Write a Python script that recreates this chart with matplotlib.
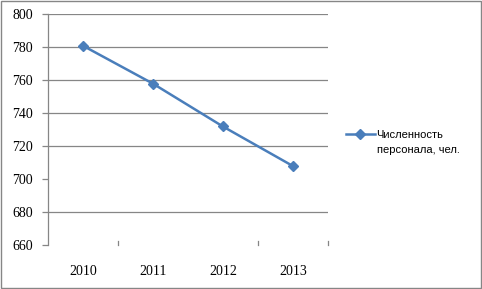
import matplotlib.pyplot as plt
from matplotlib.patches import Rectangle

years = ['2010', '2011', '2012', '2013']
staff = [781, 758, 732, 708]
yticks = [660, 680, 700, 720, 740, 760, 780, 800]
grid_at = [680, 720, 740, 760, 780, 800]
series_name = ['Численность', 'персонала, чел.']

fig = plt.figure(figsize=(4.82, 2.89), dpi=100)
ax = fig.add_axes([0.0996, 0.152, 0.5805, 0.798])

x = list(range(len(years)))
ax.plot(x, staff, color='#4a7ebb', lw=1.8, marker='D', ms=5.5,
        label=series_name[0])

for g in grid_at:
    ax.axhline(g, color='#868686', lw=0.9, zorder=0)

ax.set_xlim(-0.5, 3.5)
ax.set_ylim(660, 800)
ax.set_yticks(yticks)
ax.set_yticklabels([str(v) for v in yticks], family='Liberation Serif', fontsize=10)
ax.tick_params(axis='y', length=4, width=0.9, color='#868686', pad=7)

ax.set_xticks(x)
ax.set_xticklabels(years, family='Liberation Serif', fontsize=10)
ax.tick_params(axis='x', length=0, pad=14)
for b in [0.5, 2.5, 3.5]:
    ax.plot([b, b], [660, 662.5], color='#868686', lw=0.9, clip_on=False)

for s in ['top', 'right', 'bottom']:
    ax.spines[s].set_visible(False)
ax.spines['left'].set_color('#868686')
ax.spines['left'].set_linewidth(0.9)

# legend: marker sits on the first text line, second line wraps below
leg = fig.legend(loc='center left', bbox_to_anchor=(0.697, 0.533), frameon=False,
                 prop={'family': 'Liberation Sans', 'size': 8}, handlelength=2.6,
                 handletextpad=0.15)
fig.canvas.draw()
bb = leg.get_texts()[0].get_window_extent().transformed(fig.transFigure.inverted())
fig.text(bb.x0, bb.y0 - 0.052, series_name[1], family='Liberation Sans', fontsize=8,
         ha='left', va='bottom')

fig.patches.append(Rectangle((0.002, 0.004), 0.995, 0.992, transform=fig.transFigure,
                             fill=False, edgecolor='#868686', lw=1))

fig.savefig('out.png', dpi=100)
